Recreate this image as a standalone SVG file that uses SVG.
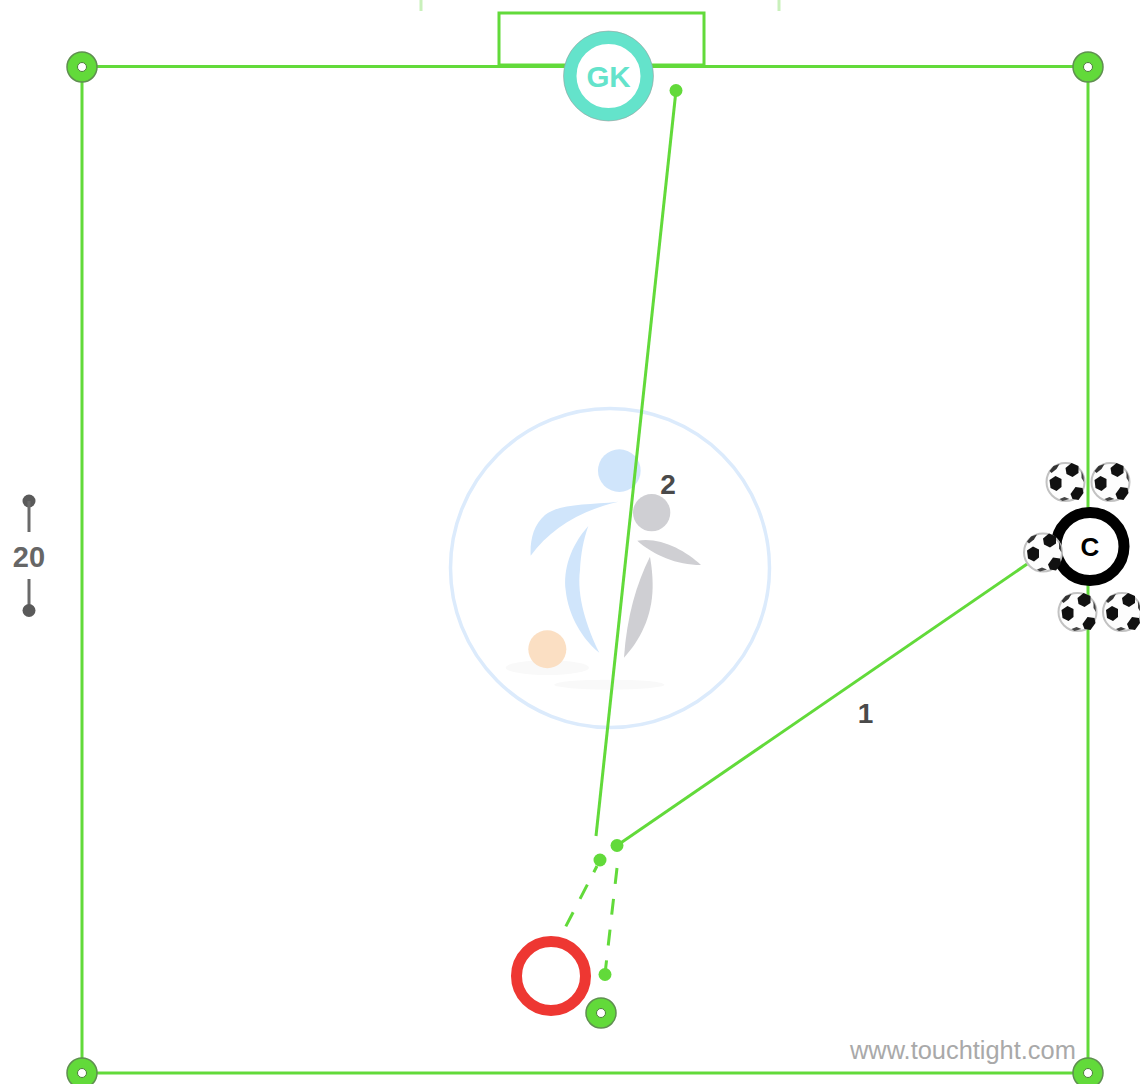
<svg xmlns="http://www.w3.org/2000/svg" xmlns:xlink="http://www.w3.org/1999/xlink" width="1140" height="1084" viewBox="0 0 1140 1084">
<style>
.g{fill:none;stroke:#62da3a;stroke-width:3}
.l{fill:none;stroke:#62da3a;stroke-width:3;stroke-linecap:butt}
.d{stroke-dasharray:16 15}
.dot{fill:#62da3a}
.lab{font-family:"Liberation Sans",Arial,sans-serif;font-weight:bold;text-anchor:middle}
.blue{fill:#d0e5fb}
.grey{fill:#cfcfd3}
</style>
<defs>
<g id="cone"><circle r="15" fill="#62da3a" stroke="#5f8f50" stroke-width="1.500"/><circle r="4.500" fill="#fff" stroke="#4d7d3c" stroke-width="1"/></g>
<g id="ball">
<circle r="19" fill="#fdfdfd" stroke="#c2c2c2" stroke-width="2"/>
<polygon points="0,-14 6,-19 13,-16 13,-9 7,-5 1,-8" fill="#111"/>
<polygon points="-16,-2 -10,-6 -4,-3 -4,5 -9,9 -15,6" fill="#111"/>
<polygon points="5,12 10,5 17,6 18,11 13,18 7,17" fill="#111"/>
<path d="M-16,-11 L-12,-16 L-6,-18 L-9,-13 L-14,-9Z" fill="#333"/>
<path d="M-6,17 L-1,15 L4,17 L-3,19Z" fill="#444"/>
<path d="M16,-11 L18,-6 L18.500,0 L16,-4Z" fill="#444"/>
</g>
</defs>

<g id="logo">
<circle cx="610" cy="568" r="159.500" fill="#fff" stroke="#dcebfc" stroke-width="3.500"/>
<g transform="translate(420 390) scale(0.3333)">
<ellipse cx="382" cy="833" rx="125" ry="22" fill="#f9f9f9"/>
<ellipse cx="568" cy="884" rx="165" ry="15" fill="#f9f9f9"/>
<circle cx="598" cy="242" r="64" class="blue"/>
<circle cx="695" cy="368" r="56" class="grey"/>
<circle cx="382" cy="778" r="57" fill="#fbdfc3"/>
<path class="blue" d="M595 335C500 345 420 340 375 375C340 405 330 450 332 497C390 420 470 365 595 335Z"/>
<path class="blue" d="M505 408C450 470 430 540 437 600C445 680 490 750 538 788C500 710 470 620 480 540C483 490 490 450 505 408Z"/>
<path class="grey" d="M652 452C720 440 795 480 843 525C770 525 700 495 652 452Z"/>
<path class="grey" d="M690 500C650 580 620 680 612 803C660 750 697 680 698 590C698 555 695 530 690 500Z"/>
</g>
</g>

<g id="ticks" stroke="#c9f0bb" stroke-width="3">
<line x1="421" y1="0" x2="421" y2="11"/>
<line x1="779" y1="0" x2="779" y2="11"/>
</g>

<g id="field">
<rect class="g" x="82" y="66.500" width="1006" height="1006.500"/>
<rect class="g" x="499" y="13" width="205" height="52"/>
</g>

<g id="connectors">
<line class="l" x1="676" y1="90.500" x2="596" y2="836"/>
<circle class="dot" cx="676" cy="90.500" r="6.500"/>
<line class="l" x1="617" y1="845.500" x2="1030" y2="562"/>
<circle class="dot" cx="617" cy="845.500" r="6.500"/>
<circle class="dot" cx="600" cy="860" r="6.500"/>
<line class="l" x1="597" y1="866" x2="565" y2="928" style="stroke-dasharray:7 14 16 15 16 15"/>
<circle class="dot" cx="605" cy="974.500" r="6.500"/>
<line class="l d" x1="617" y1="868" x2="605" y2="974"/>
</g>

<g id="dimension" fill="#5a5a5a" stroke="#6a6a6a">
<circle cx="29" cy="501" r="6.500" stroke="none"/>
<line x1="29" y1="501" x2="29" y2="532" stroke-width="3"/>
<line x1="29" y1="579" x2="29" y2="610" stroke-width="3"/>
<circle cx="29" cy="610.500" r="6.500" stroke="none"/>
<text class="lab" x="29" y="566.500" font-size="29" fill="#666" stroke="none">20</text>
</g>

<g id="cone-tl"><use xlink:href="#cone" href="#cone" x="82" y="67"/></g>
<g id="cone-tr"><use xlink:href="#cone" href="#cone" x="1088" y="67"/></g>
<g id="cone-bl"><use xlink:href="#cone" href="#cone" x="82" y="1073"/></g>
<g id="cone-br"><use xlink:href="#cone" href="#cone" x="1088" y="1073"/></g>
<g id="cone-mid"><use xlink:href="#cone" href="#cone" x="601" y="1013"/></g>

<g id="gk">
<circle cx="608.500" cy="76" r="38.500" fill="#fff" stroke="#64e3cb" stroke-width="13"/>
<circle cx="608.500" cy="76" r="45" fill="none" stroke="#9a9a9a" stroke-width="0.800" opacity="0.700"/>
<text class="lab" x="608.500" y="87" font-size="29.500" fill="#64e3cb">GK</text>
</g>

<g id="player-c">
<circle cx="1090" cy="546.500" r="34" fill="#fff" stroke="#000" stroke-width="11"/>
<text class="lab" x="1090" y="556" font-size="26" fill="#000">C</text>
</g>

<g id="player-red">
<circle cx="551" cy="976" r="34.500" fill="#fff" stroke="#ee3732" stroke-width="11"/>
</g>

<g id="balls">
<use xlink:href="#ball" href="#ball" x="1065.500" y="482"/>
<use xlink:href="#ball" href="#ball" x="1110.500" y="482"/>
<use xlink:href="#ball" href="#ball" x="1043" y="552.500"/>
<use xlink:href="#ball" href="#ball" x="1077.500" y="612"/>
<use xlink:href="#ball" href="#ball" x="1122" y="612"/>
</g>

<g id="labels">
<text class="lab" x="668" y="493.500" font-size="28" fill="#4a4a4a">2</text>
<text class="lab" x="865.500" y="723" font-size="28" fill="#4a4a4a">1</text>
<text x="850" y="1059" font-size="25.400" fill="#a9a9a9" font-family="'Liberation Sans',Arial,sans-serif">www.touchtight.com</text>
</g>
</svg>
